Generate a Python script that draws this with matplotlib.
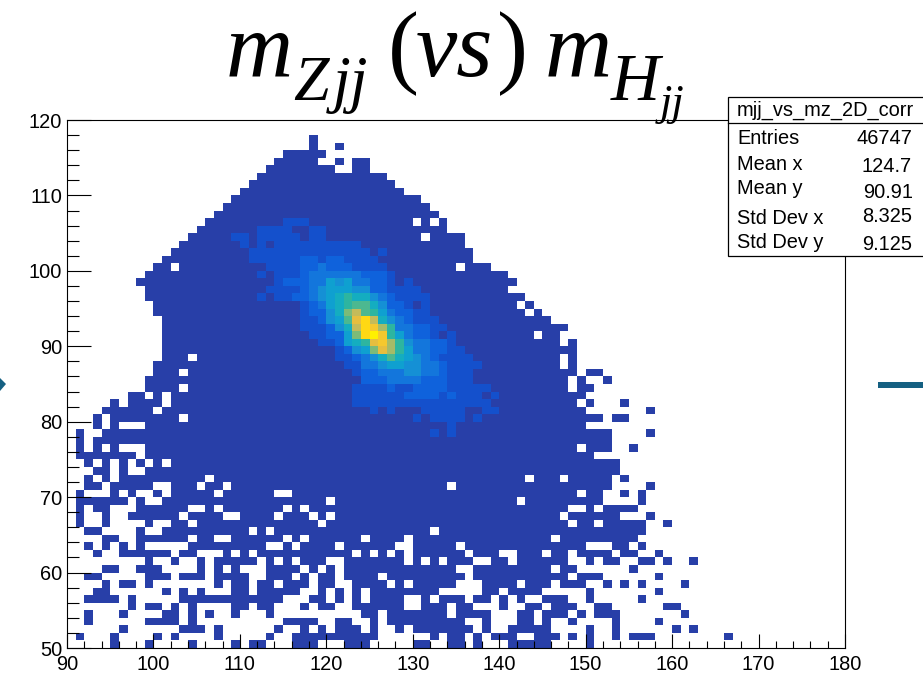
import numpy as np
from matplotlib import pyplot as plt
from matplotlib.colors import ListedColormap, BoundaryNorm
from matplotlib.lines import Line2D
from matplotlib.patches import Polygon, Rectangle

W = 923
H = 678

plt.rcParams['font.family'] = ['Liberation Sans', 'DejaVu Sans']

x_edges = np.arange(90, 181)
y_edges = np.arange(50, 121)
x_ticks = [90, 100, 110, 120, 130, 140, 150, 160, 170, 180]
y_ticks = [50, 60, 70, 80, 90, 100, 110, 120]

stats_title = 'mjj_vs_mz_2D_corr'
stats_names = ['Entries', 'Mean x', 'Mean y', 'Std Dev x', 'Std Dev y']
stats_values = ['46747', '124.7', '90.91', '8.325', '9.125']

# colour bands of the ROOT palette, lowest count first
band_colors = ['#283fa8', '#1450cc', '#0f62dc', '#1376dc', '#1590d5', '#0fa0d0',
               '#14adc0', '#2db5a0', '#4cb890', '#7cbb78', '#a5bb68', '#c4bb5a',
               '#e6be3f', '#f5c82e', '#ffd814', '#fff000']

# filled bins per y bin (first row is 50-51), as (first, last) x bin from 90
filled_runs = [
    [(5, 5), (9, 9), (14, 14), (19, 19), (21, 22), (26, 28), (32, 34), (40, 41), (44, 45), (47, 47), (51, 55), (60, 60)],
    [(1, 1), (5, 5), (10, 10), (12, 12), (17, 17), (23, 23), (26, 35), (42, 42), (44, 45), (47, 47), (49, 51), (54, 56), (58, 58), (60, 60), (63, 63), (65, 67), (76, 76)],
    [(6, 6), (13, 15), (17, 17), (24, 24), (27, 27), (29, 29), (31, 33), (35, 35), (38, 38), (40, 46), (48, 48), (51, 55), (60, 60), (63, 63), (70, 70), (72, 72)],
    [(2, 2), (9, 12), (14, 14), (25, 28), (31, 32), (35, 35), (37, 45), (48, 48), (52, 53), (55, 55), (58, 58), (63, 63), (68, 68)],
    [(2, 2), (6, 6), (11, 12), (14, 14), (16, 16), (19, 19), (23, 23), (34, 35), (37, 43), (45, 48), (52, 53), (55, 57), (59, 59), (61, 63), (71, 71)],
    [(7, 7), (9, 10), (12, 12), (14, 14), (19, 20), (22, 23), (27, 27), (29, 30), (33, 38), (41, 43), (45, 46), (50, 50), (53, 54), (56, 58), (61, 62), (69, 70)],
    [(2, 4), (5, 5), (7, 7), (13, 15), (16, 18), (19, 22), (23, 24), (28, 29), (31, 31), (33, 33), (35, 38), (41, 41), (43, 45), (47, 48), (50, 50), (52, 52), (55, 57), (60, 60), (66, 66)],
    [(3, 4), (11, 11), (13, 13), (15, 15), (19, 20), (22, 26), (29, 29), (31, 31), (33, 33), (35, 42), (48, 49), (51, 54), (60, 60), (68, 68)],
    [(4, 4), (6, 7), (9, 9), (17, 17), (19, 20), (22, 23), (25, 27), (29, 30), (33, 36), (38, 38), (40, 44), (48, 51), (53, 55), (57, 59), (62, 62), (64, 64), (66, 66), (71, 71)],
    [(2, 3), (9, 11), (13, 15), (17, 20), (23, 25), (27, 27), (29, 30), (32, 35), (37, 45), (47, 57), (59, 61), (68, 68)],
    [(4, 5), (8, 10), (15, 15), (17, 17), (19, 19), (23, 26), (28, 28), (30, 30), (32, 44), (47, 55), (57, 58), (65, 65)],
    [(9, 9), (12, 12), (15, 15), (17, 21), (23, 23), (25, 25), (27, 29), (32, 38), (40, 40), (42, 42), (44, 46), (49, 50), (52, 57), (60, 60), (62, 63), (66, 67), (69, 69), (72, 72)],
    [(3, 3), (6, 11), (13, 14), (18, 18), (20, 20), (22, 32), (34, 34), (36, 36), (38, 38), (40, 45), (47, 49), (52, 54), (56, 57), (59, 62), (64, 65), (68, 68)],
    [(2, 2), (4, 4), (6, 6), (8, 8), (14, 22), (25, 25), (27, 30), (32, 37), (40, 44), (46, 59), (63, 64), (66, 66)],
    [(4, 5), (8, 13), (15, 16), (19, 24), (26, 26), (28, 33), (35, 38), (40, 55), (57, 65)],
    [(2, 3), (8, 8), (11, 20), (22, 22), (24, 41), (43, 66)],
    [(1, 1), (4, 4), (9, 9), (12, 13), (15, 28), (30, 57), (59, 60), (62, 66), (69, 69)],
    [(1, 1), (4, 4), (7, 12), (14, 17), (20, 23), (25, 27), (29, 29), (31, 56), (58, 63), (67, 67)],
    [(1, 1), (3, 4), (8, 13), (16, 16), (18, 24), (26, 26), (28, 57), (60, 60), (62, 65)],
    [(1, 6), (8, 8), (11, 29), (31, 51), (53, 61), (66, 66)],
    [(1, 1), (5, 5), (7, 7), (10, 10), (12, 16), (18, 23), (26, 58), (60, 61), (64, 64), (66, 66)],
    [(2, 3), (5, 9), (12, 14), (16, 17), (19, 43), (45, 62), (67, 67)],
    [(2, 2), (4, 4), (6, 15), (17, 52), (54, 56), (58, 62), (64, 64)],
    [(3, 4), (6, 6), (9, 63)],
    [(2, 2), (4, 4), (6, 6), (8, 8), (10, 10), (12, 63)],
    [(1, 7), (9, 60)],
    [(1, 1), (3, 3), (5, 5), (9, 58), (60, 62), (65, 65)],
    [(1, 1), (3, 62)],
    [(1, 1), (4, 62), (67, 67)],
    [(3, 3), (5, 5), (9, 59)],
    [(3, 3), (5, 12), (14, 61), (63, 64)],
    [(4, 9), (11, 59), (67, 67)],
    [(5, 5), (7, 10), (12, 58), (60, 60), (64, 64)],
    [(7, 8), (10, 10), (12, 59)],
    [(9, 12), (14, 57), (59, 60)],
    [(9, 57), (59, 59), (62, 62)],
    [(10, 12), (14, 58), (60, 61)],
    [(10, 56), (58, 58)],
    [(11, 13), (15, 56), (58, 58)],
    [(11, 58)],
    [(11, 56), (58, 58)],
    [(11, 53), (55, 56)],
    [(11, 57)],
    [(11, 55)],
    [(10, 52), (54, 54)],
    [(10, 51), (53, 53)],
    [(9, 52)],
    [(9, 50)],
    [(8, 51)],
    [(9, 50)],
    [(10, 11), (13, 44), (46, 48)],
    [(11, 46)],
    [(12, 46)],
    [(13, 45)],
    [(14, 40), (42, 45)],
    [(15, 43)],
    [(16, 39), (41, 41), (43, 43)],
    [(17, 42)],
    [(18, 41)],
    [(19, 40)],
    [(20, 38)],
    [(21, 37)],
    [(22, 36)],
    [(23, 30), (33, 34)],
    [(24, 28), (31, 31), (33, 34)],
    [(25, 29)],
    [(28, 28), (31, 31)],
    [(28, 28)],
]

# brighter bins around the peak: y bin, first x bin, bands
core_rows = [28, 29, 30, 31, 32, 33, 34, 35, 36, 37, 38, 39, 40, 41, 42, 43, 44, 45, 46, 47, 48, 49, 50, 51, 52, 53, 54, 55, 56]
core_first = [42, 44, 40, 35, 33, 33, 33, 34, 33, 32, 31, 31, 29, 28, 27, 27, 27, 27, 22, 23, 24, 22, 23, 21, 21, 20, 19, 22, 25]
core_bands = [
    [2, 1, 2],
    [2],
    [2, 1, 2, 2, 2, 2, 1, 2],
    [2, 1, 2, 1, 1, 1, 2, 2, 2, 2, 2, 1, 1, 2, 2],
    [2, 2, 2, 2, 2, 2, 2, 2, 2, 2, 2, 2, 2, 2, 2, 2],
    [2, 2, 2, 2, 2, 2, 3, 3, 3, 3, 2, 3, 2, 2, 2, 1, 2],
    [2, 2, 2, 2, 3, 2, 2, 3, 3, 3, 3, 2, 2, 2, 2, 2],
    [3, 3, 3, 4, 4, 4, 4, 3, 3, 3, 2, 2, 2],
    [2, 3, 3, 4, 4, 4, 5, 5, 4, 4, 3, 2, 2, 2],
    [2, 2, 4, 4, 5, 6, 6, 5, 5, 4, 4, 3, 2, 2, 2, 2],
    [2, 2, 3, 4, 5, 7, 9, 7, 6, 5, 4, 3, 2, 2, 2, 2],
    [2, 3, 5, 6, 10, 13, 11, 8, 6, 4, 4, 3, 3, 2, 2],
    [2, 2, 3, 6, 7, 8, 13, 14, 11, 8, 5, 4, 4, 3, 3, 2],
    [2, 2, 3, 3, 6, 10, 15, 16, 14, 8, 6, 4, 3, 3, 2, 1, 2],
    [2, 2, 2, 3, 5, 7, 12, 15, 14, 11, 8, 4, 4, 3, 3, 2, 2],
    [2, 2, 3, 5, 6, 9, 13, 15, 12, 7, 5, 4, 3, 2, 2, 2],
    [2, 3, 3, 5, 7, 10, 12, 9, 8, 6, 4, 3, 3, 2, 2],
    [2, 3, 4, 6, 7, 8, 9, 9, 7, 5, 3, 3, 2, 1, 2],
    [2, 1, 2, 2, 3, 3, 4, 5, 6, 7, 8, 7, 7, 5, 4, 3, 2, 2, 2, 2],
    [2, 2, 2, 2, 3, 4, 5, 6, 6, 6, 5, 5, 3, 3, 2, 2, 2, 2],
    [2, 3, 3, 3, 4, 4, 6, 5, 6, 4, 4, 3, 3, 2, 1, 2],
    [2, 1, 2, 2, 2, 3, 4, 4, 4, 4, 4, 4, 3, 3, 3, 2],
    [2, 2, 2, 2, 3, 3, 4, 3, 3, 3, 2, 2, 2, 2],
    [2, 2, 2, 2, 2, 2, 3, 3, 2, 3, 3, 2, 2, 2, 2],
    [2, 2, 2, 2, 2, 2, 2, 2, 2, 2, 2, 2, 2, 2, 1, 2],
    [2, 1, 2, 1, 2, 2, 2, 2, 2, 2, 2, 2, 2, 2],
    [2, 2, 1, 2, 2, 2, 2, 2, 1, 2, 2],
    [2, 2, 2, 2, 1, 1, 2, 2],
    [2, 2, 2],
]


def px(x, y):
    return x / W, 1 - y / H


def title_piece(s, x, base, size, style):
    fx, fy = px(x, base)
    plt.gcf().text(fx, fy, s, fontsize=size, style=style, family='Liberation Serif',
                   ha='left', va='baseline', zorder=6)


def main():
    bands = np.zeros((len(y_edges) - 1, len(x_edges) - 1))
    for row, runs in enumerate(filled_runs):
        for first, last in runs:
            bands[row, first:last + 1] = 1
    for row, first, values in zip(core_rows, core_first, core_bands):
        bands[row, first:first + len(values)] = values

    fig = plt.figure(figsize=(W / 100, H / 100), dpi=100)
    ax = fig.add_axes([67 / W, 1 - 648 / H, (845 - 67) / W, (648 - 120) / H])

    cmap = ListedColormap(band_colors)
    norm = BoundaryNorm(np.arange(0.5, len(band_colors) + 1), cmap.N)
    ax.pcolormesh(x_edges, y_edges, np.ma.masked_equal(bands, 0), cmap=cmap, norm=norm,
                  antialiased=False, linewidth=0)

    ax.set_xlim(90, 180)
    ax.set_ylim(50, 120)
    ax.set_xticks(x_ticks)
    ax.set_yticks(y_ticks)
    ax.set_xticks(np.arange(90, 181, 2), minor=True)
    ax.set_yticks(np.arange(50, 121, 2), minor=True)
    ax.set_axisbelow(False)
    ax.tick_params(axis='x', which='major', direction='in', length=10, width=0.8, pad=5, labelsize=14.4)
    ax.tick_params(axis='x', which='minor', direction='in', length=5, width=0.8)
    ax.tick_params(axis='y', which='major', direction='in', length=17, width=0.8, pad=3.5, labelsize=14.4)
    ax.tick_params(axis='y', which='minor', direction='in', length=8.5, width=0.8)
    for spine in ax.spines.values():
        spine.set_linewidth(0.8)

    # title pieces, placed one by one since mathtext scales subscripts too small
    title_piece('m', 226, 76, 67, 'italic')
    title_piece('Z', 293, 100, 46, 'italic')
    title_piece('jj', 333, 100, 46, 'italic')
    title_piece('(', 388, 76, 67, 'normal')
    title_piece('vs', 416, 76, 67, 'italic')
    title_piece(')', 497, 76, 67, 'normal')
    title_piece('m', 545, 76, 67, 'italic')
    title_piece('H', 611, 100, 49, 'italic')
    title_piece('jj', 660, 115, 32, 'italic')

    # stats box runs off the right edge of the picture
    fig.add_artist(Rectangle(px(728, 256), 200 / W, (256 - 97) / H, transform=fig.transFigure,
                             facecolor='white', edgecolor='black', linewidth=0.9, zorder=4))
    fig.add_artist(Line2D([728 / W, 1], [1 - 123 / H, 1 - 123 / H], color='black', linewidth=0.9, zorder=5))
    x, y = px(825, 110)
    fig.text(x, y, stats_title, fontsize=14.4, ha='center', va='center', zorder=5)
    name_y = [138, 165, 189, 218, 243]
    value_y = [138, 166, 192, 217, 245]
    value_x = [912, 912, 913, 912, 912]
    for i in range(len(stats_names)):
        x, y = px(737, name_y[i])
        fig.text(x, y, stats_names[i], fontsize=14.4, ha='left', va='center', zorder=5)
        x, y = px(value_x[i], value_y[i])
        fig.text(x, y, stats_values[i], fontsize=14.4, ha='right', va='center', zorder=5)

    # slide arrow pieces at both sides
    fig.add_artist(Polygon([px(0, 378), px(6, 384), px(0, 391)], transform=fig.transFigure,
                           facecolor='#156082', edgecolor='none'))
    fig.add_artist(Rectangle(px(878, 388), 45 / W, 6 / H, transform=fig.transFigure,
                             facecolor='#156082', edgecolor='none'))

    fig.savefig('out.png', dpi=100)


if __name__ == '__main__':
    main()
